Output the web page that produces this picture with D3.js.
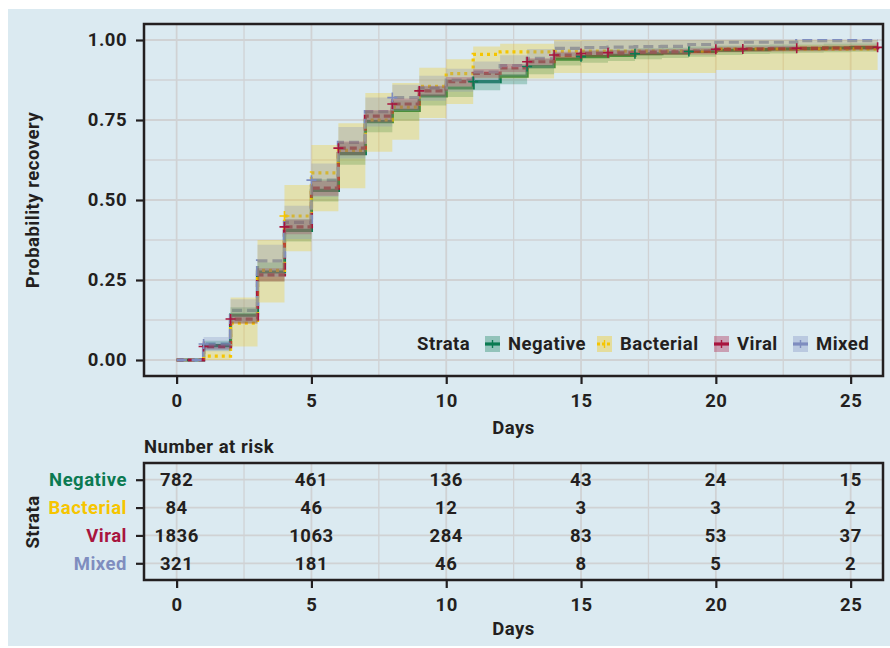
<!DOCTYPE html>
<meta charset="utf-8">
<script src="https://d3js.org/d3.v7.min.js"></script>
<style>
  body { margin: 0; background: #ffffff; }
  text { font-family: Roboto, "DejaVu Sans", sans-serif; font-weight: bold; fill: #231f20; letter-spacing: 0.5px; }
</style>
<div id="chart"></div>
<script>
// Kaplan-Meier style recovery curves
const strata = ["Negative", "Bacterial", "Viral", "Mixed"];
const colors = ["#0b7a52", "#f6c500", "#a8153e", "#7f8dbf"];
const dashes = [null, "3,4", "7,4", "10,5"];

const days = [0, 1, 2, 3, 4, 5, 6, 7, 8, 9, 10, 11, 12, 13, 14, 15, 16, 17, 18, 19, 20, 21, 22, 23, 24, 25, 26];

const negEst  = [0, 0.045, 0.140, 0.275, 0.405, 0.530, 0.645, 0.745, 0.780, 0.825, 0.850, 0.870, 0.887, 0.917, 0.940, 0.948, 0.952, 0.957, 0.960, 0.964, 0.968, 0.970, 0.972, 0.973, 0.975, 0.976, 0.977];
const negLow  = [0, 0.030, 0.115, 0.245, 0.370, 0.495, 0.610, 0.712, 0.748, 0.795, 0.822, 0.843, 0.862, 0.893, 0.920, 0.929, 0.934, 0.940, 0.944, 0.948, 0.953, 0.956, 0.958, 0.960, 0.962, 0.963, 0.964];
const negHigh = [0, 0.060, 0.165, 0.305, 0.440, 0.565, 0.680, 0.778, 0.812, 0.855, 0.878, 0.897, 0.912, 0.941, 0.960, 0.967, 0.970, 0.974, 0.976, 0.980, 0.983, 0.984, 0.986, 0.986, 0.988, 0.989, 0.990];

const bacEst  = [0, 0.012, 0.115, 0.280, 0.450, 0.585, 0.655, 0.750, 0.790, 0.855, 0.895, 0.955, 0.963, 0.963, 0.965, 0.965, 0.965, 0.965, 0.965, 0.965, 0.972, 0.972, 0.972, 0.972, 0.972, 0.972, 0.972];
const bacLow  = [0, 0.000, 0.042, 0.180, 0.340, 0.465, 0.537, 0.651, 0.688, 0.756, 0.800, 0.880, 0.880, 0.880, 0.897, 0.897, 0.897, 0.897, 0.897, 0.897, 0.906, 0.906, 0.906, 0.906, 0.906, 0.906, 0.906];
const bacHigh = [0, 0.030, 0.195, 0.375, 0.547, 0.672, 0.740, 0.834, 0.866, 0.913, 0.940, 0.980, 0.988, 0.988, 1.000, 1.000, 1.000, 1.000, 1.000, 1.000, 1.000, 1.000, 1.000, 1.000, 1.000, 1.000, 1.000];

const virEst  = [0, 0.042, 0.128, 0.266, 0.416, 0.537, 0.662, 0.762, 0.800, 0.841, 0.870, 0.896, 0.913, 0.932, 0.953, 0.958, 0.960, 0.962, 0.963, 0.965, 0.971, 0.972, 0.973, 0.974, 0.975, 0.976, 0.977];
const virLow  = [0, 0.033, 0.113, 0.245, 0.393, 0.513, 0.640, 0.742, 0.782, 0.824, 0.855, 0.882, 0.900, 0.920, 0.942, 0.948, 0.950, 0.952, 0.953, 0.955, 0.962, 0.963, 0.964, 0.965, 0.966, 0.967, 0.968];
const virHigh = [0, 0.051, 0.143, 0.287, 0.439, 0.560, 0.683, 0.781, 0.817, 0.857, 0.884, 0.909, 0.925, 0.943, 0.963, 0.967, 0.969, 0.971, 0.972, 0.974, 0.979, 0.980, 0.981, 0.982, 0.983, 0.984, 0.985];

const mixEst  = [0, 0.050, 0.155, 0.310, 0.430, 0.562, 0.680, 0.776, 0.820, 0.850, 0.875, 0.900, 0.920, 0.943, 0.974, 0.976, 0.978, 0.979, 0.980, 0.986, 0.993, 0.993, 0.993, 0.998, 0.998, 0.998, 0.998];
const mixLow  = [0, 0.027, 0.118, 0.260, 0.378, 0.510, 0.630, 0.730, 0.778, 0.810, 0.838, 0.864, 0.886, 0.912, 0.950, 0.953, 0.955, 0.957, 0.958, 0.966, 0.976, 0.976, 0.976, 0.985, 0.985, 0.985, 0.985];
const mixHigh = [0, 0.072, 0.190, 0.360, 0.482, 0.614, 0.728, 0.820, 0.860, 0.888, 0.910, 0.933, 0.952, 0.972, 0.996, 0.998, 1.000, 1.000, 1.000, 1.000, 1.000, 1.000, 1.000, 1.000, 1.000, 1.000, 1.000];

// censoring marks (days)
const negCens = [11, 13, 15, 17, 19];
const bacCens = [4];
const virCens = [1, 2, 4, 6, 8, 9, 13, 14, 15, 16, 20, 21, 23, 26];
const mixCens = [1, 5, 8];

// number at risk
const riskDays = [0, 5, 10, 15, 20, 25];
const negRisk = [782, 461, 136, 43, 24, 15];
const bacRisk = [84, 46, 12, 3, 3, 2];
const virRisk = [1836, 1063, 284, 83, 53, 37];
const mixRisk = [321, 181, 46, 8, 5, 2];

const xTicks = [0, 5, 10, 15, 20, 25];
const xMinor = [2.5, 7.5, 12.5, 17.5, 22.5];
const yTicks = [0, 0.25, 0.5, 0.75, 1];
const yMinor = [0.125, 0.375, 0.625, 0.875];

const series = [
  {est: negEst, low: negLow, high: negHigh, cens: negCens, risk: negRisk},
  {est: bacEst, low: bacLow, high: bacHigh, cens: bacCens, risk: bacRisk},
  {est: virEst, low: virLow, high: virHigh, cens: virCens, risk: virRisk},
  {est: mixEst, low: mixLow, high: mixHigh, cens: mixCens, risk: mixRisk}
];

const W = 890, H = 648;
const bg = "#dbeaf1", grid = "#d0d2d4", ink = "#231f20";
const fs = 18.5;

const svg = d3.select("#chart").append("svg")
  .attr("width", W).attr("height", H);

svg.append("rect").attr("x", 8).attr("y", 9).attr("width", W - 8).attr("height", 637).attr("fill", bg);

// main panel
const x = d3.scaleLinear().domain([-1.21, 26.2]).range([144, 883]);
const y = d3.scaleLinear().domain([-0.05, 1.05]).range([376, 24]);

const g = svg.append("g");

g.selectAll(".vmin").data(xMinor).join("line")
  .attr("x1", d => x(d)).attr("x2", d => x(d)).attr("y1", 24).attr("y2", 376)
  .attr("stroke", grid).attr("stroke-width", 1.3);
g.selectAll(".hmin").data(yMinor).join("line")
  .attr("x1", 144).attr("x2", 883).attr("y1", d => y(d)).attr("y2", d => y(d))
  .attr("stroke", grid).attr("stroke-width", 1.3);
g.selectAll(".vmaj").data(xTicks).join("line")
  .attr("x1", d => x(d)).attr("x2", d => x(d)).attr("y1", 24).attr("y2", 376)
  .attr("stroke", grid).attr("stroke-width", 1.8);
g.selectAll(".hmaj").data(yTicks).join("line")
  .attr("x1", 144).attr("x2", 883).attr("y1", d => y(d)).attr("y2", d => y(d))
  .attr("stroke", grid).attr("stroke-width", 1.8);

// curves first, confidence ribbons drawn over them
const line = d3.line().curve(d3.curveStepAfter).x(d => x(d[0])).y(d => y(d[1]));
series.forEach((s, i) => {
  const pts = days.map((d, k) => [d, s.est[k]]);
  g.append("path").attr("d", line(pts))
    .attr("fill", "none").attr("stroke", colors[i])
    .attr("stroke-width", 3.2)
    .attr("stroke-dasharray", dashes[i]);
});

const area = d3.area().curve(d3.curveStepAfter)
  .x(d => x(d[0])).y0(d => y(d[1])).y1(d => y(d[2]));
series.forEach((s, i) => {
  const pts = days.map((d, k) => [d, s.low[k], s.high[k]]);
  g.append("path").attr("d", area(pts))
    .attr("fill", colors[i]).attr("fill-opacity", 0.28);
});

series.forEach((s, i) => {
  g.selectAll(null).data(s.cens).join("path")
    .attr("transform", d => `translate(${x(d)},${y(s.est[days.indexOf(d)])})`)
    .attr("d", "M-5,0H5M0,-5V5")
    .attr("stroke", colors[i]).attr("stroke-width", 1.6);
});

// panel border
g.append("rect").attr("x", 144).attr("y", 24).attr("width", 739).attr("height", 352)
  .attr("fill", "none").attr("stroke", ink).attr("stroke-width", 2.5);

// axes
const xAxis = g.append("g").attr("transform", "translate(0,377)")
  .call(d3.axisBottom(x).tickValues(xTicks).tickSize(7).tickPadding(10).tickFormat(d3.format("d")));
const yAxis = g.append("g").attr("transform", "translate(143,0)")
  .call(d3.axisLeft(y).tickValues(yTicks).tickSize(7).tickPadding(9).tickFormat(d3.format(".2f")));
[xAxis, yAxis].forEach(a => {
  a.select(".domain").remove();
  a.selectAll(".tick line").attr("stroke", ink).attr("stroke-width", 2.2);
  a.selectAll(".tick text").attr("font-size", fs).attr("fill", ink)
    .attr("font-family", "Roboto, sans-serif").attr("font-weight", "bold");
});

g.append("text").attr("x", 513.5).attr("y", 434).attr("text-anchor", "middle")
  .attr("font-size", fs).text("Days");
g.append("text").attr("transform", "translate(39,200) rotate(-90)").attr("text-anchor", "middle")
  .attr("font-size", fs).text("Probability recovery");

// legend
const lg = g.append("g").attr("transform", "translate(0,344)");
lg.append("text").attr("x", 417).attr("y", 6).attr("font-size", fs).text("Strata");
const keyX = [485, 597, 714, 793];
strata.forEach((s, i) => {
  const k = lg.append("g").attr("transform", `translate(${keyX[i]},0)`);
  k.append("line").attr("x1", 0).attr("x2", 15).attr("y1", 0).attr("y2", 0)
    .attr("stroke", colors[i]).attr("stroke-width", 3.2)
    .attr("stroke-dasharray", i === 1 ? "3,2" : null);
  k.append("rect").attr("x", 0).attr("y", -8).attr("width", 15).attr("height", 16)
    .attr("fill", colors[i]).attr("fill-opacity", 0.35);
  k.append("path").attr("d", "M7.5,-4V4").attr("stroke", colors[i]).attr("stroke-width", 1.4);
  lg.append("text").attr("x", keyX[i] + 23).attr("y", 6).attr("font-size", fs).text(s);
});

// risk table
const ty = d3.scalePoint().domain(strata).range([463, 580]).padding(0.6);
const t = svg.append("g");
t.append("text").attr("x", 144).attr("y", 453).attr("font-size", fs).text("Number at risk");

t.selectAll(".tvmin").data(xMinor).join("line")
  .attr("x1", d => x(d)).attr("x2", d => x(d)).attr("y1", 463).attr("y2", 580)
  .attr("stroke", grid).attr("stroke-width", 1.3);
t.selectAll(".tvmaj").data(xTicks).join("line")
  .attr("x1", d => x(d)).attr("x2", d => x(d)).attr("y1", 463).attr("y2", 580)
  .attr("stroke", grid).attr("stroke-width", 1.8);
t.selectAll(".th").data(strata).join("line")
  .attr("x1", 144).attr("x2", 883).attr("y1", d => ty(d)).attr("y2", d => ty(d))
  .attr("stroke", grid).attr("stroke-width", 1.8);

series.forEach((s, i) => {
  t.selectAll(null).data(riskDays).join("text")
    .attr("x", d => x(d)).attr("y", ty(strata[i])).attr("dy", "0.36em")
    .attr("text-anchor", "middle").attr("font-size", fs)
    .text((d, k) => s.risk[k]);
});

t.append("rect").attr("x", 144).attr("y", 463).attr("width", 739).attr("height", 117)
  .attr("fill", "none").attr("stroke", ink).attr("stroke-width", 2.5);

const txAxis = t.append("g").attr("transform", "translate(0,581)")
  .call(d3.axisBottom(x).tickValues(xTicks).tickSize(7).tickPadding(10).tickFormat(d3.format("d")));
const tyAxis = t.append("g").attr("transform", "translate(143,0)")
  .call(d3.axisLeft(ty).tickSize(7).tickPadding(9));
[txAxis, tyAxis].forEach(a => {
  a.select(".domain").remove();
  a.selectAll(".tick line").attr("stroke", ink).attr("stroke-width", 2.2);
  a.selectAll(".tick text").attr("font-size", fs).attr("fill", ink)
    .attr("font-family", "Roboto, sans-serif").attr("font-weight", "bold");
});
tyAxis.selectAll(".tick text").style("fill", (d, i) => colors[i]);

t.append("text").attr("x", 513.5).attr("y", 635).attr("text-anchor", "middle")
  .attr("font-size", fs).text("Days");
t.append("text").attr("transform", "translate(39,522) rotate(-90)").attr("text-anchor", "middle")
  .attr("font-size", fs).text("Strata");
</script>
